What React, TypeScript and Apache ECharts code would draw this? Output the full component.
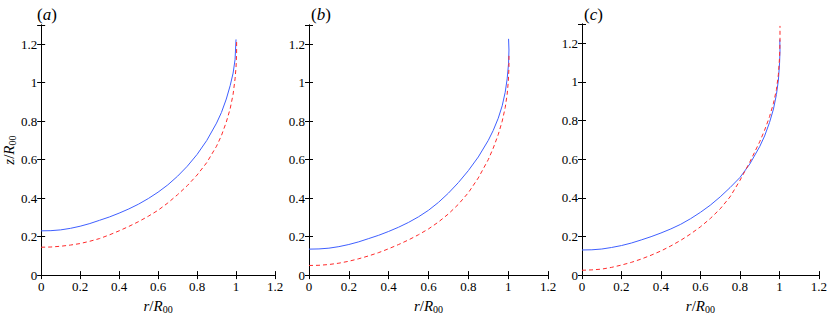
import React, { useEffect, useRef } from "react";
import * as echarts from "echarts";

// Panel (a)
const aBlueR = [0, 0.05, 0.1, 0.15, 0.2, 0.25, 0.3, 0.35, 0.4, 0.45, 0.5, 0.55, 0.6, 0.65, 0.7, 0.75, 0.8, 0.85, 0.9, 0.925, 0.95, 0.97, 0.985, 0.995, 1.0];
const aBlueZ = [0.23, 0.231, 0.235, 0.243, 0.254, 0.268, 0.285, 0.302, 0.322, 0.344, 0.369, 0.398, 0.431, 0.469, 0.514, 0.566, 0.627, 0.7, 0.79, 0.845, 0.915, 0.985, 1.05, 1.12, 1.225];
const aRedR = [0, 0.05, 0.1, 0.15, 0.2, 0.25, 0.3, 0.35, 0.4, 0.45, 0.5, 0.55, 0.6, 0.65, 0.7, 0.75, 0.8, 0.85, 0.9, 0.925, 0.95, 0.97, 0.985, 0.995, 1.0, 1.003, 1.003];
const aRedZ = [0.145, 0.146, 0.15, 0.156, 0.164, 0.176, 0.19, 0.209, 0.23, 0.253, 0.278, 0.306, 0.337, 0.375, 0.418, 0.465, 0.52, 0.585, 0.67, 0.725, 0.795, 0.865, 0.94, 1.02, 1.08, 1.15, 1.22];

// Panel (b)
const bBlueR = [0, 0.05, 0.1, 0.15, 0.2, 0.25, 0.3, 0.35, 0.4, 0.45, 0.5, 0.55, 0.6, 0.65, 0.7, 0.75, 0.8, 0.85, 0.9, 0.925, 0.95, 0.97, 0.985, 0.995, 1.002, 1.004, 1.002];
const bBlueZ = [0.135, 0.136, 0.14, 0.148, 0.159, 0.173, 0.19, 0.207, 0.227, 0.249, 0.274, 0.303, 0.337, 0.378, 0.426, 0.481, 0.543, 0.614, 0.7, 0.752, 0.815, 0.88, 0.95, 1.02, 1.1, 1.17, 1.228];
const bRedR = [0, 0.05, 0.1, 0.15, 0.2, 0.25, 0.3, 0.35, 0.4, 0.45, 0.5, 0.55, 0.6, 0.65, 0.7, 0.75, 0.8, 0.85, 0.9, 0.925, 0.95, 0.97, 0.985, 0.995, 1.001, 1.004, 1.004];
const bRedZ = [0.05, 0.051, 0.055, 0.062, 0.072, 0.085, 0.1, 0.117, 0.137, 0.159, 0.183, 0.21, 0.24, 0.276, 0.318, 0.368, 0.428, 0.505, 0.6, 0.66, 0.73, 0.8, 0.87, 0.94, 1.01, 1.08, 1.142];

// Panel (c)
const cBlueR = [0, 0.05, 0.1, 0.15, 0.2, 0.25, 0.3, 0.35, 0.4, 0.45, 0.5, 0.55, 0.6, 0.65, 0.7, 0.75, 0.8, 0.85, 0.9, 0.925, 0.95, 0.97, 0.985, 0.995, 1.001, 1.003, 1.002];
const cBlueZ = [0.13, 0.131, 0.135, 0.143, 0.153, 0.166, 0.182, 0.199, 0.218, 0.239, 0.263, 0.292, 0.325, 0.362, 0.405, 0.453, 0.505, 0.575, 0.665, 0.72, 0.79, 0.86, 0.935, 1.01, 1.1, 1.16, 1.22];
const cRedR = [0, 0.05, 0.1, 0.15, 0.2, 0.25, 0.3, 0.35, 0.4, 0.45, 0.5, 0.55, 0.6, 0.65, 0.7, 0.75, 0.8, 0.85, 0.9, 0.925, 0.95, 0.97, 0.985, 0.995, 1.001, 1.003, 1.003];
const cRedZ = [0.025, 0.027, 0.031, 0.04, 0.052, 0.066, 0.083, 0.103, 0.125, 0.151, 0.18, 0.213, 0.25, 0.293, 0.343, 0.405, 0.49, 0.585, 0.69, 0.75, 0.82, 0.89, 0.96, 1.04, 1.13, 1.21, 1.29];

const panelLabels = ["a", "b", "c"];
const xAxisLabel = "r/R00";
const yAxisLabel = "z/R00";

const FONT = "Liberation Serif";

const zip = (r: number[], z: number[]) => r.map((v, i) => [v, z[i]]);

export default function App() {
  const ref = useRef<HTMLDivElement>(null);
  useEffect(() => {
    if (!ref.current) return;
    const chart = echarts.init(ref.current, null, { renderer: "svg" });

    const grids = [
      { left: 35, top: 25, width: 240, height: 261 },
      { left: 309, top: 25, width: 239, height: 261 },
      { left: 582, top: 24, width: 239, height: 260 },
    ];
    const panels = [
      [zip(aBlueR, aBlueZ), zip(aRedR, aRedZ)],
      [zip(bBlueR, bBlueZ), zip(bRedR, bRedZ)],
      [zip(cBlueR, cBlueZ), zip(cRedR, cRedZ)],
    ];

    const rich = {
      i: { fontFamily: FONT, fontStyle: "italic" as const, fontWeight: "normal" as const, fontSize: 15, color: "#000" },
      n: { fontFamily: FONT, fontWeight: "normal" as const, fontSize: 15, color: "#000" },
      s: { fontFamily: FONT, fontWeight: "normal" as const, fontSize: 10, color: "#000", padding: [7, 0, 0, 0] },
    };
    const tickRich = { t: { fontFamily: FONT, fontSize: 13, color: "#000" } };
    const nameRich = (lbl: string) => `{i|${lbl[0]}}{n|/}{i|R}{s|${lbl.slice(3)}}`;
    const fmt = (v: number) => (v > 1.25 ? "" : `{t|${Math.round(v * 10) / 10}}`);

    const xAxes: any[] = [];
    const yAxes: any[] = [];
    const series: any[] = [];
    const titles: any[] = [];

    grids.forEach((g, k) => {
      const line = { show: true, lineStyle: { color: "#000", width: 1 } };
      const tick = { show: true, inside: true, length: 4, lineStyle: { color: "#000", width: 1 } };
      xAxes.push({
        type: "value", gridIndex: k, min: 0, max: 1.2, interval: 0.2, position: "bottom",
        axisLine: line, axisTick: tick, splitLine: { show: false },
        axisLabel: { fontFamily: FONT, fontSize: 13, color: "#000", margin: 5, formatter: fmt, rich: tickRich },
        name: nameRich(xAxisLabel), nameLocation: "middle", nameGap: 18,
        nameTextStyle: { rich },
      });
      xAxes.push({
        type: "value", gridIndex: k, min: 0, max: 1.2, interval: 0.2, position: "top",
        axisLine: line, axisTick: tick, splitLine: { show: false }, axisLabel: { show: false },
      });
      const yLab: any = {
        type: "value", gridIndex: k, min: 0, max: 1.3, interval: 0.2, position: "left",
        axisLine: line, axisTick: tick, splitLine: { show: false },
        axisLabel: { fontFamily: FONT, fontSize: 13, color: "#000", margin: 4, formatter: fmt, rich: tickRich },
      };
      if (k === 0) {
        yLab.name = nameRich(yAxisLabel);
        yLab.nameLocation = "middle";
        yLab.nameGap = 22;
        yLab.nameRotate = 90;
        yLab.nameTextStyle = { rich };
      }
      yAxes.push(yLab);
      yAxes.push({
        type: "value", gridIndex: k, min: 0, max: 1.3, interval: 0.2, position: "right",
        axisLine: line, axisTick: tick, splitLine: { show: false }, axisLabel: { show: false },
      });
      const [blue, red] = panels[k];
      series.push({
        type: "line", xAxisIndex: 2 * k, yAxisIndex: 2 * k, data: blue, showSymbol: false,
        smooth: false, lineStyle: { color: "#3f5fff", width: 1 }, z: 3,
      });
      series.push({
        type: "line", xAxisIndex: 2 * k, yAxisIndex: 2 * k, data: red, showSymbol: false,
        smooth: false, lineStyle: { color: "#ff2a2a", width: 1, type: [4, 3] }, z: 4,
      });
      titles.push({
        text: `{n|(}{i|${panelLabels[k]}}{n|)}`,
        left: g.left - 3, top: 1,
        textStyle: {
          fontWeight: "normal",
          rich: {
            i: { fontFamily: FONT, fontStyle: "italic", fontWeight: "normal", fontSize: 17, color: "#000" },
            n: { fontFamily: FONT, fontWeight: "normal", fontSize: 17, color: "#000" },
          },
        },
      });
    });

    chart.setOption({
      animation: false,
      backgroundColor: "#fff",
      textStyle: { fontFamily: FONT },
      title: titles,
      grid: grids.map((g) => ({ ...g, containLabel: false })),
      xAxis: xAxes,
      yAxis: yAxes,
      series,
    });
    return () => chart.dispose();
  }, []);
  return (
    <div
      ref={ref}
      style={{ position: "fixed", left: 0, top: 0, width: 830, height: 319, background: "#fff" }}
    />
  );
}
